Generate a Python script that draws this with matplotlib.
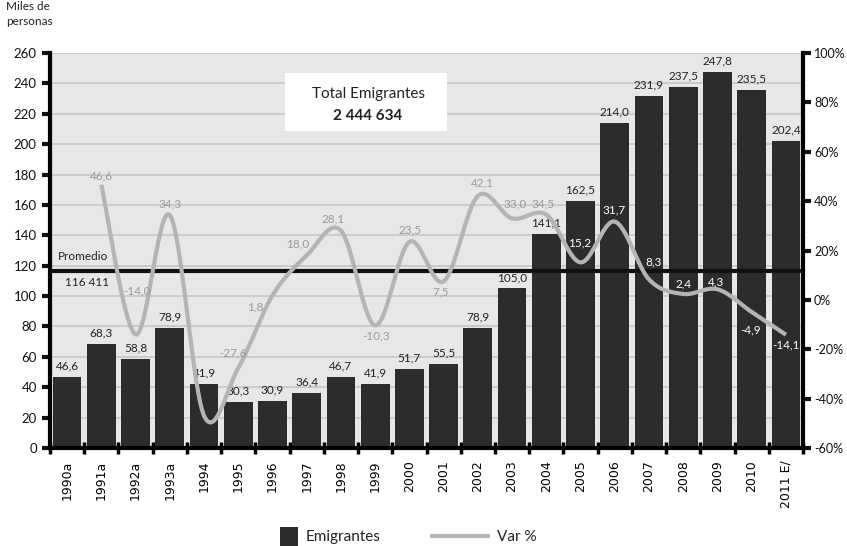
import numpy as np
import matplotlib
matplotlib.use("Agg")
import matplotlib.pyplot as plt
from matplotlib.patches import Rectangle
from matplotlib.lines import Line2D

plt.rcParams['font.family'] = ['Lato', 'DejaVu Sans']

years = ["1990a", "1991a", "1992a", "1993a", "1994", "1995", "1996", "1997",
         "1998", "1999", "2000", "2001", "2002", "2003", "2004", "2005",
         "2006", "2007", "2008", "2009", "2010", "2011 E/"]
emigrantes = [46.6, 68.3, 58.8, 78.9, 41.9, 30.3, 30.9, 36.4, 46.7, 41.9, 51.7,
              55.5, 78.9, 105.0, 141.1, 162.5, 214.0, 231.9, 237.5, 247.8,
              235.5, 202.4]
# variacion % (desde 1991a)
var_pct = [46.6, -14.0, 34.3, -46.9, -27.6, 1.8, 18.0, 28.1, -10.3, 23.5, 7.5,
           42.1, 33.0, 34.5, 15.2, 31.7, 8.3, 2.4, 4.3, -4.9, -14.1]
var_labels = ["46,6", "-14,0", "34,3", "", "-27,6", "1,8", "18,0", "28,1",
              "-10,3", "23,5", "7,5", "42,1", "33,0", "34,5", "15,2", "31,7",
              "8,3", "2,4", "4,3", "-4,9", "-14,1"]
promedio = 116.411

BAR = '#2d2b2c'
LINE = '#b4b4b4'
BG = '#e7e7ea'

fig = plt.figure(figsize=(8.47, 5.46), dpi=100)
ax = fig.add_axes([50/847, 98/546, 753/847, 395/546])
ax.set_facecolor(BG)

x = np.arange(len(years))
ax.bar(x, emigrantes, width=0.84, color=BAR, zorder=2)
ax.set_xlim(-0.5, len(years) - 0.5)
ax.set_ylim(0, 260)
ax.set_yticks(np.arange(0, 261, 20))
ax.yaxis.grid(True, color='#c8c8cc', lw=1.3, zorder=0)
ax.set_axisbelow(True)

for xi, v in zip(x, emigrantes):
    ax.annotate(f"{v:.1f}".replace('.', ','), (xi, v), xytext=(0, 4),
                textcoords='offset points', ha='center', va='bottom',
                fontsize=8.5, color='#222222', zorder=5)

# promedio
ax.axhline(promedio, xmin=0, xmax=0.995, color='#111111', lw=3, zorder=3)
ax.text(0.011, 0.484, "Promedio", transform=ax.transAxes, fontsize=8.5,
        color='#222222', va='center')
ax.text(0.02, 0.418, "116 411", transform=ax.transAxes, fontsize=8.5,
        color='#222222', va='center')

# caja total
ax.add_patch(Rectangle((235/753, 1 - 78/395), 162/753, 58/395,
                       transform=ax.transAxes, facecolor='white',
                       edgecolor='none', zorder=4))
ax.text(318/753, 1 - 41/395, "Total Emigrantes", transform=ax.transAxes,
        ha='center', va='center', fontsize=11, color='#222222', zorder=5)
ax.text(318/753, 1 - 63/395, "2 444 634", transform=ax.transAxes,
        ha='center', va='center', fontsize=11, fontweight='bold',
        color='#222222', zorder=5)

# ejes
ax.spines['top'].set_visible(False)
ax.spines['right'].set_visible(False)
ax.spines['left'].set_linewidth(3)
ax.spines['bottom'].set_linewidth(3)
ax.set_xticks(x)
ax.set_xticklabels(years, rotation=90, family='DejaVu Sans', fontsize=9)
ax.tick_params(axis='x', length=0, pad=9)
ax.set_xticks(np.arange(-0.5, len(years)), minor=True)
ax.tick_params(axis='x', which='minor', direction='inout', length=9, width=2.5)
ax.tick_params(axis='y', direction='out', length=6, width=3, labelsize=9.5,
               colors='#111111')

# eje derecho
ax2 = ax.twinx()
ax2.set_ylim(-60, 100)
ax2.set_yticks(np.arange(-60, 101, 20))
ax2.set_yticklabels([f"{t}%" for t in range(-60, 101, 20)])
ax2.tick_params(axis='y', direction='out', length=6, width=3, labelsize=9,
                colors='#111111', pad=2)
for s in ['top', 'left', 'bottom']:
    ax2.spines[s].set_visible(False)
ax2.spines['right'].set_linewidth(3)

# linea suavizada (Catmull-Rom, como Excel)
xv = x[1:].astype(float)
yv = np.array(var_pct, dtype=float)
px = np.concatenate([[xv[0]], xv, [xv[-1]]])
py = np.concatenate([[yv[0]], yv, [yv[-1]]])
sx, sy = [], []
t = np.linspace(0, 1, 30)
for i in range(1, len(px) - 2):
    p0, p1, p2, p3 = [np.array([px[j], py[j]]) for j in (i - 1, i, i + 1, i + 2)]
    c1 = p1 + (p2 - p0) / 6
    c2 = p2 - (p3 - p1) / 6
    b = ((1 - t)[:, None] ** 3 * p1 + 3 * ((1 - t) ** 2 * t)[:, None] * c1
         + 3 * ((1 - t) * t ** 2)[:, None] * c2 + (t ** 3)[:, None] * p2)
    sx.extend(b[:, 0]); sy.extend(b[:, 1])
ax2.plot(sx, sy, color=LINE, lw=3, solid_capstyle='butt', zorder=3)

# etiquetas de la linea (desplazamientos en px)
offsets = [(0, -9), (1, -44), (0, -11), (0, 0), (-5, -15), (-17, 11), (-9, -12),
           (-8, -12), (1, 11), (1, -12), (-3, 11), (5, -13), (3, -14), (-3, -11),
           (-1, -19), (-1, -12), (5, -17), (0, -10), (-1, -7), (-1, 18), (0, 10)]
white = {"15,2", "31,7", "8,3", "2,4", "4,3", "-4,9", "-14,1"}
for xi, yi, lab, (dx, dy) in zip(xv, yv, var_labels, offsets):
    if not lab:
        continue
    ax2.annotate(lab, (xi, yi), xytext=(dx * 0.72, -dy * 0.72),
                 textcoords='offset points', ha='center', va='center',
                 fontsize=8.5, color='white' if lab in white else '#9a9a9a',
                 zorder=6)

fig.text(6/847, 1 - 14/546, "Miles de\npersonas", fontsize=8.5, color='#222222',
         va='center', ha='left', linespacing=1.4)

# leyenda
fig.patches.append(Rectangle((280/847, 0), 18/847, 19/546, transform=fig.transFigure,
                             facecolor=BAR, edgecolor='none'))
fig.text(306/847, 9/546, "Emigrantes", fontsize=11, color='#222222',
         va='center', ha='left')
fig.lines.append(Line2D([432/847, 488/847], [10/546, 10/546],
                        transform=fig.transFigure, color=LINE, lw=3))
fig.text(497/847, 9/546, "Var %", fontsize=11, color='#222222',
         va='center', ha='left')

fig.savefig("out.png", dpi=100)
